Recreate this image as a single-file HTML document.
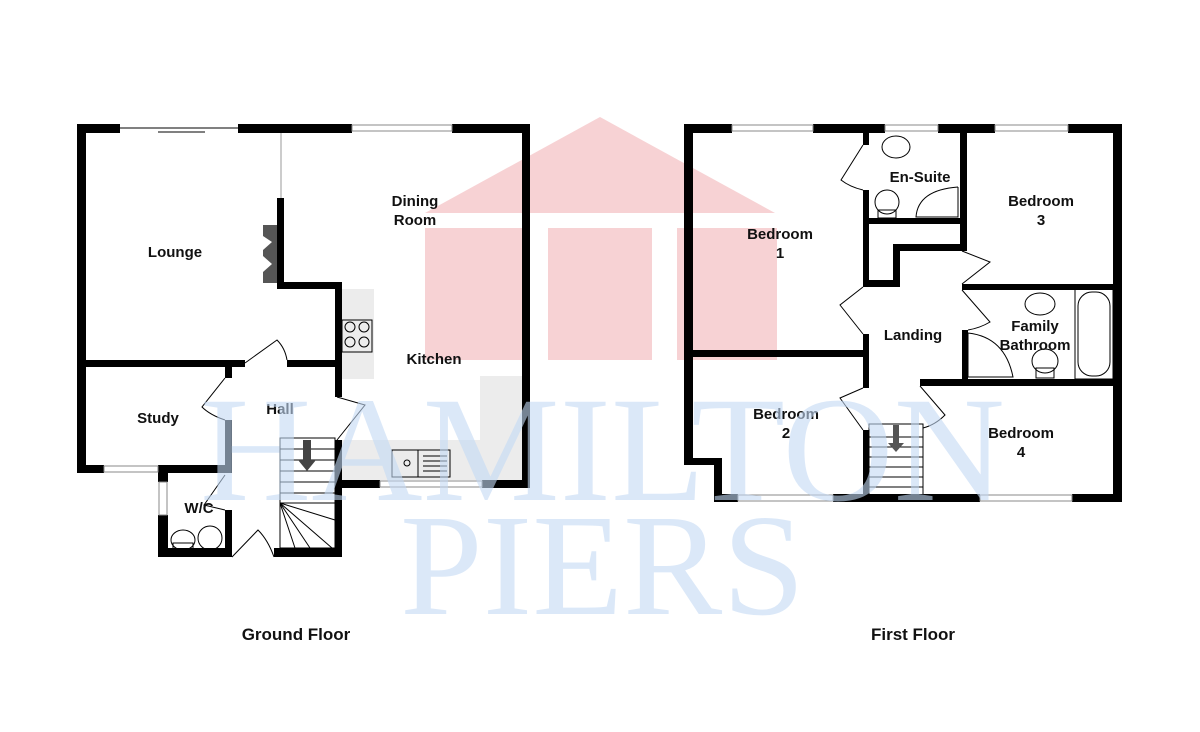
<!DOCTYPE html>
<html><head><meta charset="utf-8"><style>
html,body{margin:0;padding:0;background:#fff;}
svg{display:block}
.l{font-family:"Liberation Sans",sans-serif;font-weight:bold;font-size:15px;fill:#111;text-anchor:middle}
.w{fill:#000}
.win{fill:#fff;stroke:#888;stroke-width:1}
.t{stroke:#000;stroke-width:1;fill:none}
</style></head><body>
<svg width="1200" height="732" viewBox="0 0 1200 732" xmlns="http://www.w3.org/2000/svg">
<rect width="1200" height="732" fill="#fff"/>
<g fill="#f0a6aa" opacity="0.5">
<polygon points="425,213 600,117 775,213"/>
<rect x="425" y="228" width="97" height="132"/>
<rect x="548" y="228" width="104" height="132"/>
<rect x="677" y="228" width="100" height="132"/>
</g>
<rect x="342" y="289" width="32" height="90" fill="#ececec"/>
<rect x="342" y="440" width="180" height="40" fill="#ececec"/>
<rect x="480" y="376" width="42" height="64" fill="#ececec"/>

<g class="w">
<rect x="77" y="124" width="43" height="9"/>
<rect x="238" y="124" width="114" height="9"/>
<rect x="452" y="124" width="78" height="9"/>
<rect x="77" y="124" width="9" height="349"/>
<rect x="522" y="124" width="8" height="364"/>
<rect x="77" y="465" width="27" height="8"/>
<rect x="158" y="465" width="74" height="8"/>
<rect x="158" y="465" width="10" height="17"/>
<rect x="158" y="515" width="10" height="42"/>
<rect x="158" y="548" width="74" height="9"/>
<rect x="225" y="510" width="7" height="47"/>
<rect x="225" y="420" width="7" height="53"/>
<rect x="225" y="367" width="7" height="11"/>
<rect x="77" y="360" width="168" height="7"/>
<rect x="287" y="360" width="55" height="7"/>
<rect x="277" y="198" width="7" height="91"/>
<rect x="277" y="282" width="65" height="7"/>
<rect x="335" y="282" width="7" height="115"/>
<rect x="335" y="440" width="7" height="117"/>
<rect x="274" y="548" width="68" height="9"/>
<rect x="335" y="480" width="45" height="8"/>
<rect x="482" y="480" width="48" height="8"/>
</g>
<line x1="281" y1="133" x2="281" y2="198" stroke="#999" stroke-width="1"/>
<g class="win">
<rect x="352" y="125" width="100" height="6"/>
<rect x="380" y="481" width="102" height="6"/>
<rect x="104" y="466" width="54" height="6"/>
<rect x="159" y="482" width="8" height="33"/>
</g>
<line x1="120" y1="128" x2="238" y2="128" stroke="#000"/>
<line x1="158" y1="132" x2="205" y2="132" stroke="#000"/>
<polygon points="263,225 277,225 277,283 263,283 263,272 272,264 263,256 263,250 272,242 263,236" fill="#555"/>
<g class="t">
<path d="M245,363 L277,340 Q285,348 287,360"/>
<path d="M225,378 L202,407 Q210,415 225,420"/>
<path d="M337,397 L365,405 L337,440"/>
<path d="M225,475 L204,505 L225,510"/>
<path d="M232,557 L258,530 Q268,540 274,557"/>
</g>
<g class="t">
<rect x="280" y="438" width="55" height="110"/>
<line x1="280" y1="449" x2="335" y2="449"/><line x1="280" y1="460" x2="335" y2="460"/>
<line x1="280" y1="471" x2="335" y2="471"/><line x1="280" y1="482" x2="335" y2="482"/>
<line x1="280" y1="493" x2="335" y2="493"/><line x1="280" y1="503" x2="335" y2="503"/>
<line x1="280" y1="503" x2="335" y2="520"/><line x1="280" y1="503" x2="332" y2="548"/>
<line x1="280" y1="503" x2="310" y2="548"/><line x1="280" y1="503" x2="295" y2="548"/>
</g>
<polygon points="303,440 311,440 311,460 316,460 307,471 298,460 303,460" fill="#444"/>
<g class="t" stroke-width="0.8">
<rect x="342" y="320" width="30" height="32"/>
<circle cx="350" cy="327" r="5"/><circle cx="364" cy="327" r="5"/>
<circle cx="350" cy="342" r="5"/><circle cx="364" cy="342" r="5"/>
<rect x="392" y="450" width="58" height="27"/>
<line x1="418" y1="450" x2="418" y2="477"/>
<circle cx="407" cy="463" r="3"/>
<line x1="423" y1="456" x2="447" y2="456"/><line x1="423" y1="461" x2="447" y2="461"/>
<line x1="423" y1="466" x2="447" y2="466"/><line x1="423" y1="471" x2="447" y2="471"/>
<ellipse cx="183" cy="540" rx="12" ry="10"/><rect x="173" y="543" width="20" height="6"/>
<ellipse cx="210" cy="538" rx="12" ry="12"/>
</g>

<g class="w">
<rect x="684" y="124" width="48" height="9"/>
<rect x="813" y="124" width="72" height="9"/>
<rect x="938" y="124" width="57" height="9"/>
<rect x="1068" y="124" width="54" height="9"/>
<rect x="684" y="124" width="9" height="341"/>
<rect x="684" y="458" width="38" height="7"/>
<rect x="714" y="458" width="8" height="44"/>
<rect x="714" y="494" width="24" height="8"/>
<rect x="833" y="494" width="147" height="8"/>
<rect x="1072" y="494" width="50" height="8"/>
<rect x="1113" y="124" width="9" height="378"/>
<rect x="863" y="133" width="6" height="12"/>
<rect x="863" y="190" width="6" height="34"/>
<rect x="863" y="218" width="104" height="6"/>
<rect x="960" y="133" width="7" height="117"/>
<rect x="893" y="244" width="74" height="7"/>
<rect x="893" y="244" width="7" height="43"/>
<rect x="863" y="280" width="37" height="7"/>
<rect x="863" y="224" width="6" height="60"/>
<rect x="863" y="334" width="6" height="54"/>
<rect x="693" y="350" width="176" height="7"/>
<rect x="962" y="284" width="160" height="6"/>
<rect x="962" y="330" width="6" height="56"/>
<rect x="920" y="379" width="202" height="7"/>
<rect x="863" y="430" width="6" height="72"/>
</g>
<g class="win">
<rect x="732" y="125" width="81" height="6"/>
<rect x="885" y="125" width="53" height="6"/>
<rect x="995" y="125" width="73" height="6"/>
<rect x="738" y="495" width="95" height="6"/>
<rect x="980" y="495" width="92" height="6"/>
</g>
<g class="t">
<path d="M863,145 L841,180 Q850,187 863,190"/>
<path d="M863,287 L840,305 L863,334"/>
<path d="M962,251 L990,262 L962,284"/>
<path d="M962,290 L990,322 Q980,328 968,330"/>
<path d="M863,388 L840,398 L863,430"/>
<path d="M920,386 L945,415 Q935,425 923,428"/>
<rect x="869" y="424" width="54" height="74"/>
<line x1="869" y1="437" x2="923" y2="437"/><line x1="869" y1="447" x2="923" y2="447"/>
<line x1="869" y1="457" x2="923" y2="457"/><line x1="869" y1="467" x2="923" y2="467"/>
<line x1="869" y1="477" x2="923" y2="477"/><line x1="869" y1="487" x2="923" y2="487"/>
<ellipse cx="896" cy="147" rx="14" ry="11"/>
<ellipse cx="887" cy="202" rx="12" ry="12"/><rect x="878" y="210" width="18" height="8"/>
<path d="M958,187 L958,217 L916,217 Q918,190 958,187"/>
<ellipse cx="1040" cy="304" rx="15" ry="11"/>
<path d="M968,333 Q1005,337 1013,377 L968,377 Z"/>
<ellipse cx="1045" cy="361" rx="13" ry="12"/><rect x="1036" y="368" width="18" height="10"/>
<rect x="1075" y="289" width="38" height="90"/>
<rect x="1078" y="292" width="32" height="84" rx="14"/>
</g>
<polygon points="893,425 899,425 899,443 904,443 896,452 888,443 893,443" fill="#555"/>

<text class="l" x="175" y="257">Lounge</text>
<text class="l" x="415" y="206">Dining</text>
<text class="l" x="415" y="225">Room</text>
<text class="l" x="434" y="364">Kitchen</text>
<text class="l" x="158" y="423">Study</text>
<text class="l" x="280" y="414">Hall</text>
<text class="l" x="199" y="513">W/C</text>
<text class="l" x="780" y="239">Bedroom</text>
<text class="l" x="780" y="258">1</text>
<text class="l" x="920" y="182">En-Suite</text>
<text class="l" x="1041" y="206">Bedroom</text>
<text class="l" x="1041" y="225">3</text>
<text class="l" x="913" y="340">Landing</text>
<text class="l" x="1035" y="331">Family</text>
<text class="l" x="1035" y="350">Bathroom</text>
<text class="l" x="786" y="419">Bedroom</text>
<text class="l" x="786" y="438">2</text>
<text class="l" x="1021" y="438">Bedroom</text>
<text class="l" x="1021" y="457">4</text>
<text class="l" x="296" y="640" style="font-size:17px">Ground Floor</text>
<text class="l" x="913" y="640" style="font-size:17px">First Floor</text>

<g fill="#c4daf5" opacity="0.6" font-family="Liberation Serif, serif">
<text x="200" y="500" font-size="150" textLength="805" lengthAdjust="spacingAndGlyphs">HAMILTON</text>
<text x="400" y="614" font-size="145" textLength="405" lengthAdjust="spacingAndGlyphs">PIERS</text>
</g>
</svg>
</body></html>
